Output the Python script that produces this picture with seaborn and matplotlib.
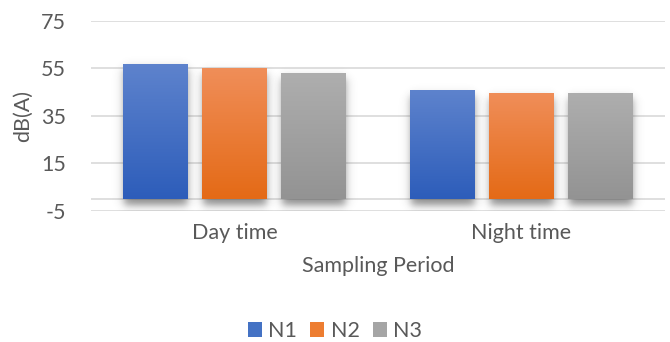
import numpy as np
import pandas as pd
import matplotlib
matplotlib.use("Agg")
import matplotlib.pyplot as plt
import matplotlib.colors as mcolors
import seaborn as sns

# ---- data ----
categories = ["Day time", "Night time"]
series_names = ["N1", "N2", "N3"]
n1_values = [57, 46]
n2_values = [55, 44.5]
n3_values = [53, 44.5]
y_ticks = [-5, 15, 35, 55, 75]

df = pd.DataFrame({
    "period": categories * 3,
    "series": [s for s in series_names for _ in categories],
    "value": n1_values + n2_values + n3_values,
})

base_colors = {"N1": "#4472C4", "N2": "#ED7D31", "N3": "#A5A5A5"}
grad = {
    "N1": ("#5E83CD", "#2D5DBA"),
    "N2": ("#F08E59", "#E46A16"),
    "N3": ("#AEAEAE", "#939393"),
}

sns.set_theme(style="white")
plt.rcParams["font.family"] = ["Lato", "DejaVu Sans"]
plt.rcParams["axes.unicode_minus"] = False
text_color = "#595959"
fs = 15.5

fig = plt.figure(figsize=(6.70, 3.42), dpi=100)
ax = fig.add_axes([91 / 670, 1 - 210.7 / 342, (665 - 91) / 670, (210.7 - 21) / 342])

sns.barplot(data=df, x="period", y="value", hue="series", order=categories,
            hue_order=series_names, palette=base_colors, width=0.825, gap=0.18,
            ax=ax, legend=True, saturation=1, linewidth=0)

ax.set_ylim(-5, 75)
ax.set_xlim(-0.5, 1.5)
ax.set_yticks(y_ticks)
ax.yaxis.grid(True, color="#D9D9D9", linewidth=1.2)
ax.set_axisbelow(True)
ax.axhline(0, color="#D9D9D9", linewidth=1.2, zorder=0.5)
for s in ax.spines.values():
    s.set_visible(False)
ax.tick_params(axis="both", length=0, colors=text_color, labelsize=fs)
ax.tick_params(axis="y", pad=18)
ax.tick_params(axis="x", pad=9)
ax.set_xlabel("Sampling Period", color=text_color, fontsize=fs, labelpad=9)
ax.set_ylabel("dB(A)", color=text_color, fontsize=fs, labelpad=6)

# gradient fill + soft shadow for each bar
fig.canvas.draw()
bars = [p for p in ax.patches if p.get_height() != 0]
order = []
for s in series_names:
    order += [s] * len(categories)
to_data = ax.transData.inverted()
for patch, s in zip(bars, order):
    x0, y0 = patch.get_x(), patch.get_y()
    w, h = patch.get_width(), patch.get_height()
    # shadow
    (px0, py0) = ax.transData.transform((x0, y0))
    (px1, py1) = ax.transData.transform((x0 + w, y0 + h))
    m = 12
    off = -6
    nx, ny = int(px1 - px0 + 2 * m), int(py1 - py0 + 2 * m)
    xs = np.arange(nx) + px0 - m + 0.5
    ys = np.arange(ny) + py0 - m + 0.5
    sig = 2.5
    dx = np.minimum(xs - (px0 + 1), (px1 - 1) - xs)
    dy = np.minimum(ys - (py0 + off), (py1 + off) - ys)
    sx = 1 / (1 + np.exp(-dx / sig))
    sy = 1 / (1 + np.exp(-dy / sig))
    a = np.outer(sy[::-1], sx) * 0.6
    img = np.zeros((ny, nx, 4))
    img[..., :3] = 0.25
    img[..., 3] = a
    (dx0, dy0) = to_data.transform((px0 - m, py0 - m))
    (dx1, dy1) = to_data.transform((px1 + m, py1 + m))
    ax.imshow(img, extent=(dx0, dx1, dy0, dy1), aspect="auto", zorder=1.5,
              interpolation="bilinear")
    # gradient
    top, bot = mcolors.to_rgb(grad[s][0]), mcolors.to_rgb(grad[s][1])
    t = np.linspace(0, 1, 256)[:, None]
    g = np.array(top)[None, :] * (1 - t) + np.array(bot)[None, :] * t
    gimg = g[:, None, :]
    im = ax.imshow(gimg, extent=(x0, x0 + w, y0, y0 + h), aspect="auto",
                   zorder=2.5, interpolation="bilinear")
    im.set_clip_path(patch)
    patch.set_zorder(2)

ax.set_xlim(-0.5, 1.5)
ax.set_ylim(-5, 75)

# legend
leg = ax.legend(loc="center", bbox_to_anchor=(0.5, 1 - 331 / 342),
                bbox_transform=fig.transFigure, ncol=3, frameon=False,
                handlelength=0.65, handleheight=0.65, handletextpad=0.3,
                columnspacing=0.6, fontsize=fs)
for t in leg.get_texts():
    t.set_color(text_color)
for hnd, s in zip(leg.legend_handles, series_names):
    hnd.set_facecolor(base_colors[s])

fig.savefig("out.png", dpi=100)
